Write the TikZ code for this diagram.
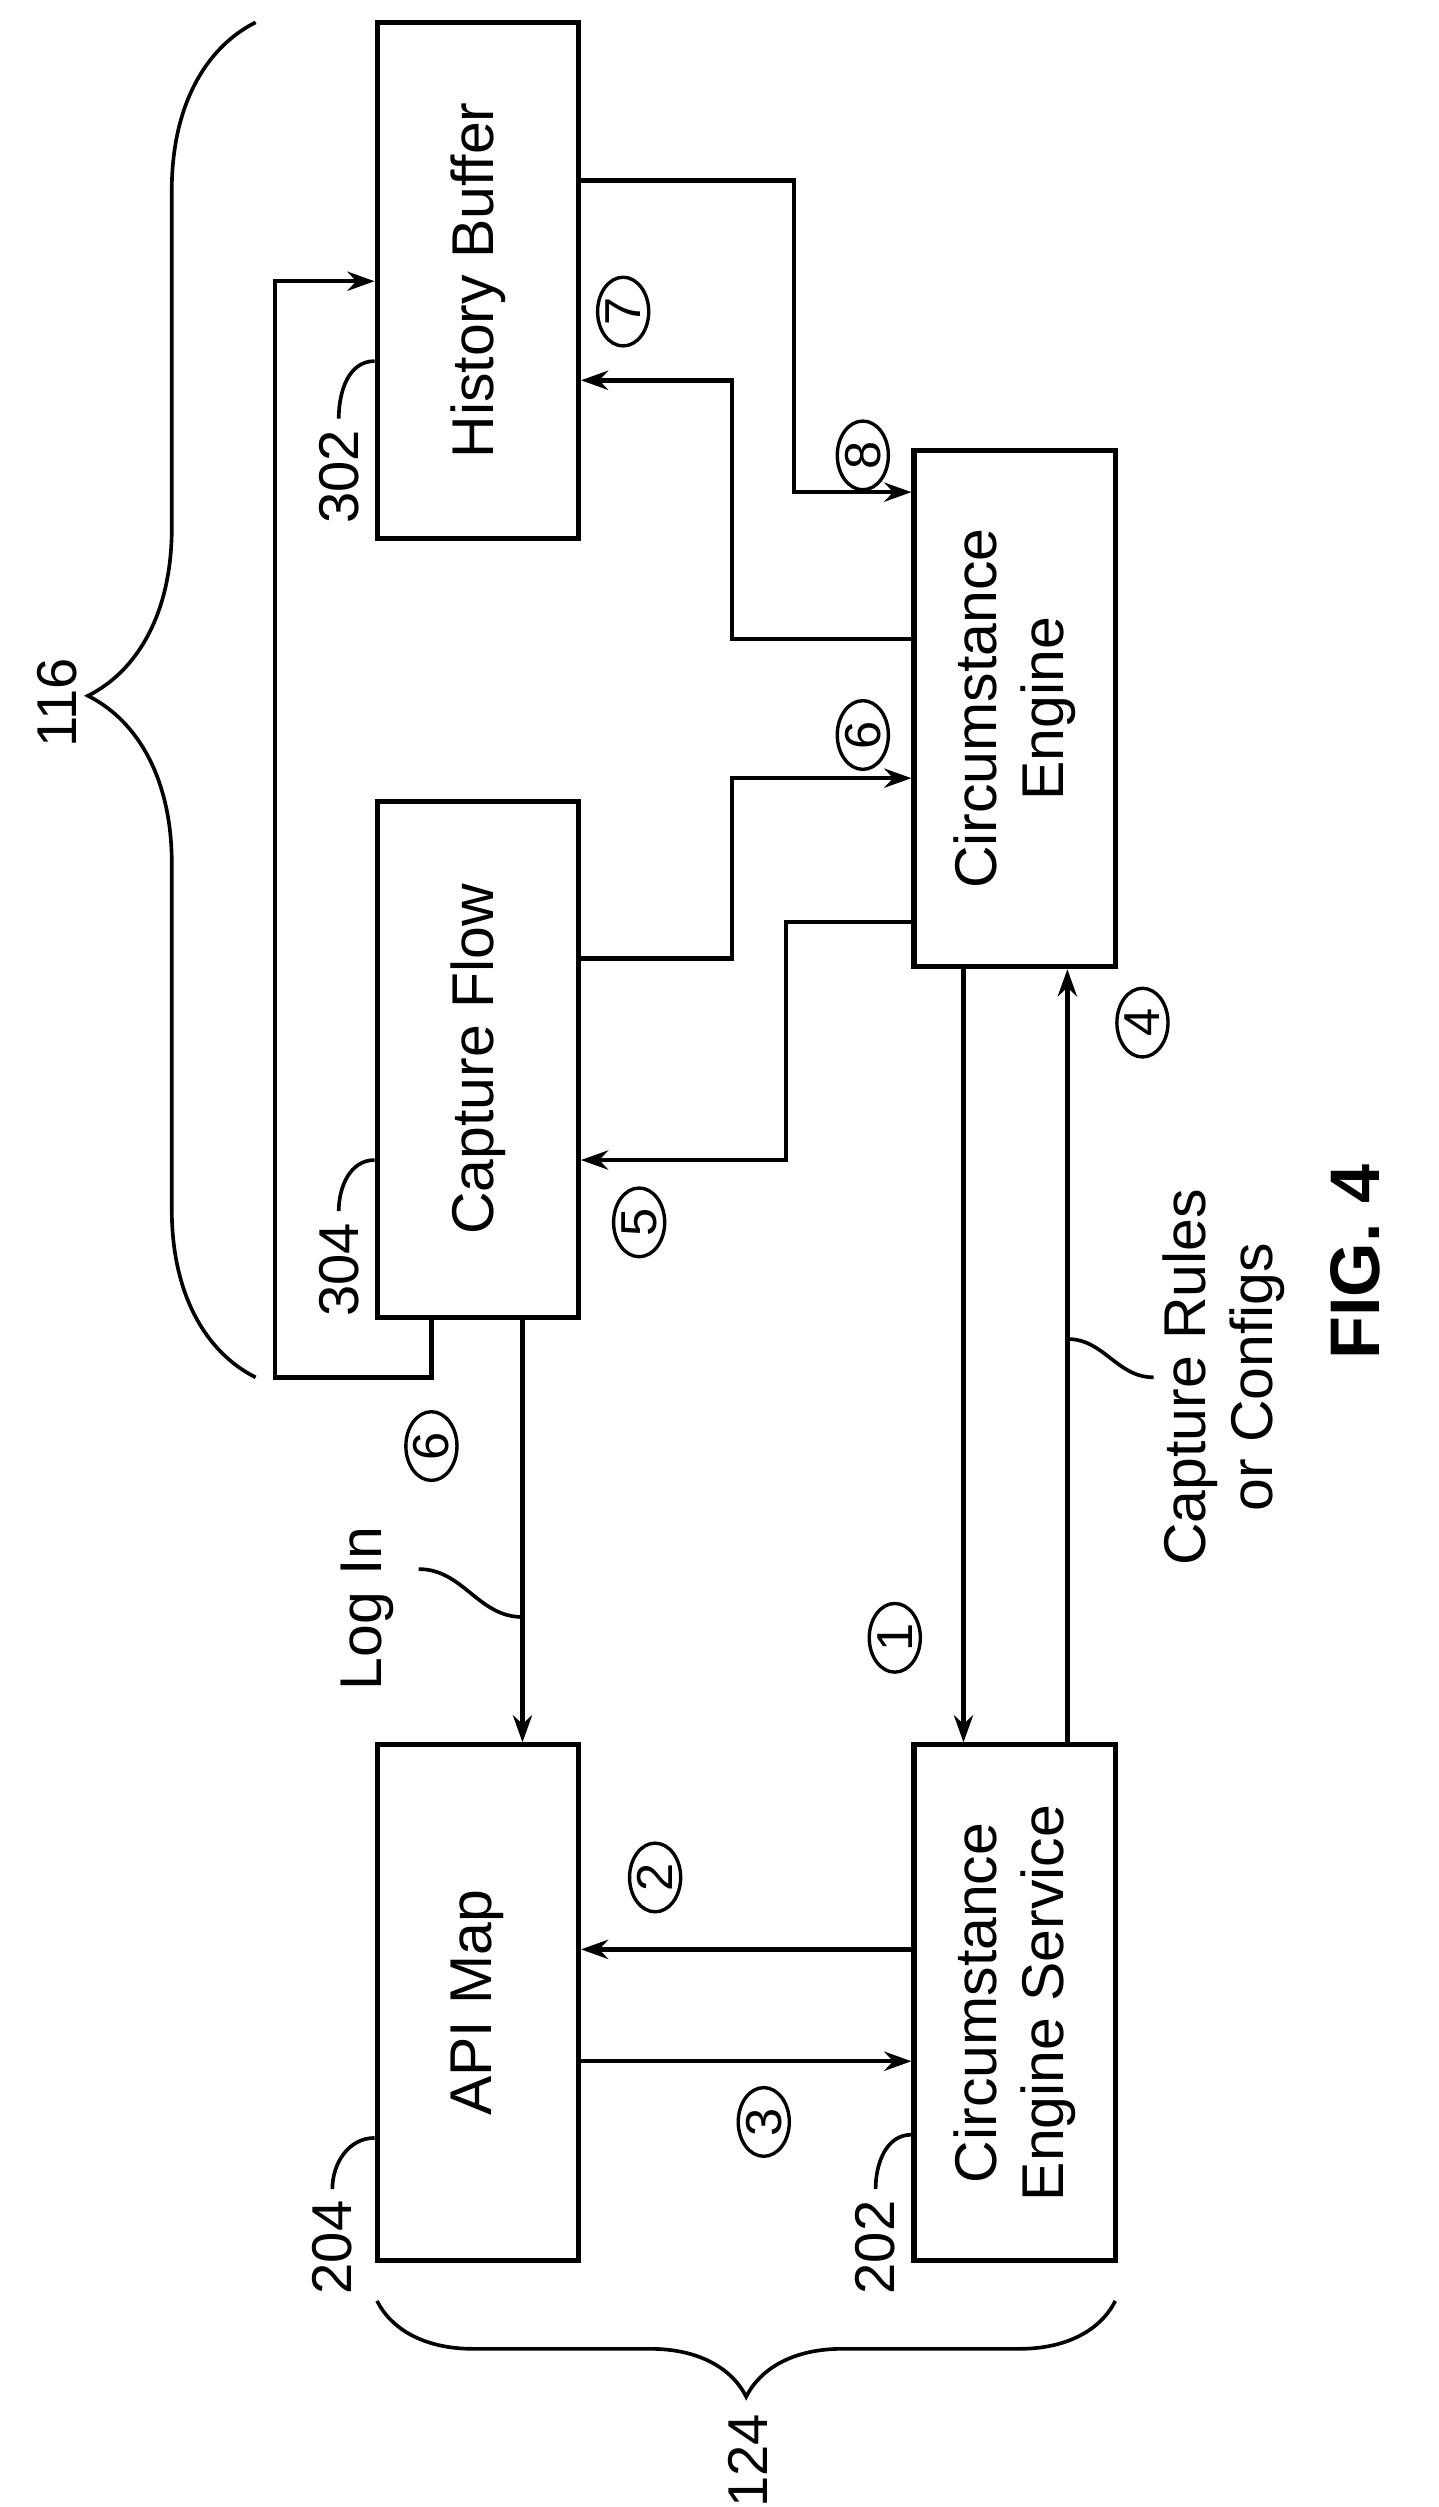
\documentclass[tikz,border=0pt]{standalone}
\usepackage{fontspec}
\setmainfont{Liberation Sans}
\usetikzlibrary{positioning, arrows.meta, shapes.geometric, decorations.pathreplacing}

\begin{document}
\begin{tikzpicture}[x=0.02cm, y=-0.02cm,
		box/.style={rectangle, draw, line width=1.8pt, minimum width=2.52cm, minimum height=6.46cm, inner sep=0pt},
		txt/.style={rotate=90, align=center, font=\fontsize{21}{24}\selectfont},
		num/.style={ellipse, draw, rotate=90, line width=1.2pt, minimum width=0.86cm, minimum height=0.64cm, inner sep=0pt, font=\fontsize{18}{18}\selectfont},
		ref/.style={rotate=90, font=\fontsize{20}{20}\selectfont},
		ld/.style={line width=1.3pt},
		line width=1.6pt,
		>={Stealth[length=3.4mm, width=2.4mm]}
		]
		\useasboundingbox (0,0) rectangle (900,1569);
		
		\node[box] (hb) at (299,175.5) {};
		\node[box] (cf) at (299,663) {};
		\node[box] (ce) at (635,443.5) {};
		\node[box] (api) at (299,1253.5) {};
		\node[box] (ces) at (635,1253.5) {};
		\node[txt] at (hb) {History Buffer};
		\node[txt] at (cf) {Capture Flow};
		\node[txt] at (ce) {Circumstance\\Engine};
		\node[txt] at (api) {API Map};
		\node[txt] at (ces) {Circumstance\\Engine Service};
		
		% connectors
		\draw[->] (hb.east |- 0,113) -| (497,308) -- (ce.west |- 0,308);
		\draw[->] (ce.west |- 0,400) -| (458,238) -- (hb.east |- 0,238);
		\draw[->] (cf.east |- 0,600) -| (458,487) -- (ce.west |- 0,487);
		\draw[->] (ce.west |- 0,577) -| (492,726) -- (cf.east |- 0,726);
		\draw[->] (cf.south -| 270,0) |- (172,862) |- (hb.west |- 0,176);
		\draw[->] (cf.south -| 327,0) -- (api.north -| 327,0);
		\draw[->] (ce.south -| 603,0) -- (ces.north -| 603,0);
		\draw[->] (ces.north -| 668,0) -- (ce.south -| 668,0);
		\draw[->] (ces.west |- 0,1220) -- (api.east |- 0,1220);
		\draw[->] (api.east |- 0,1290) -- (ces.west |- 0,1290);
		
		% step numbers
		\foreach \n/\x/\y in {8/540/285, 7/390/195, 6/540/460, 5/400/765, 6/270/905, 1/560/1025, 4/715/640, 2/410/1175, 3/478/1328}
		\node[num] at (\x,\y) {\n};
		
		% reference numerals
		\node[ref, anchor=east] (n302) at (212,262) {302};
		\draw[ld] (n302.east) to[out=90, in=180] (hb.west |- 0,226);
		\node[ref, anchor=east] (n304) at (212,758) {304};
		\draw[ld] (n304.east) to[out=90, in=180] (cf.west |- 0,726);
		\node[ref, anchor=east] (n204) at (208,1370) {204};
		\draw[ld] (n204.east) to[out=90, in=180] (api.west |- 0,1338);
		\node[ref, anchor=east] (n202) at (548,1370) {202};
		\draw[ld] (n202.east) to[out=90, in=180] (ces.west |- 0,1336);
		
		% arrow labels
		\node[txt, anchor=west] (login) at (230,1065) {Log In};
		\coordinate (lg) at (327,1012);
		\draw[ld] (262,982) to[out=0, in=180] (lg);
		\node[txt] (rules) at (766,862) {Capture Rules\\or Configs};
		\coordinate (rc) at (668,838);
		\draw[ld] (rc) to[out=0, in=180] (722,862);
		
		% braces
		\draw[ld, decorate, decoration={brace, amplitude=2.1cm, aspect=0.503}] (160,862) -- (160,14);
		\node[ref] at (36,440) {116};
		\draw[ld, decorate, decoration={brace, amplitude=1.2cm}] (698,1440) -- (236,1440);
		\node[ref] at (468,1540) {124};
		
		\node[rotate=90, font=\fontsize{25}{25}\selectfont\bfseries] at (848,790) {FIG. 4};
\end{tikzpicture}
\end{document}
